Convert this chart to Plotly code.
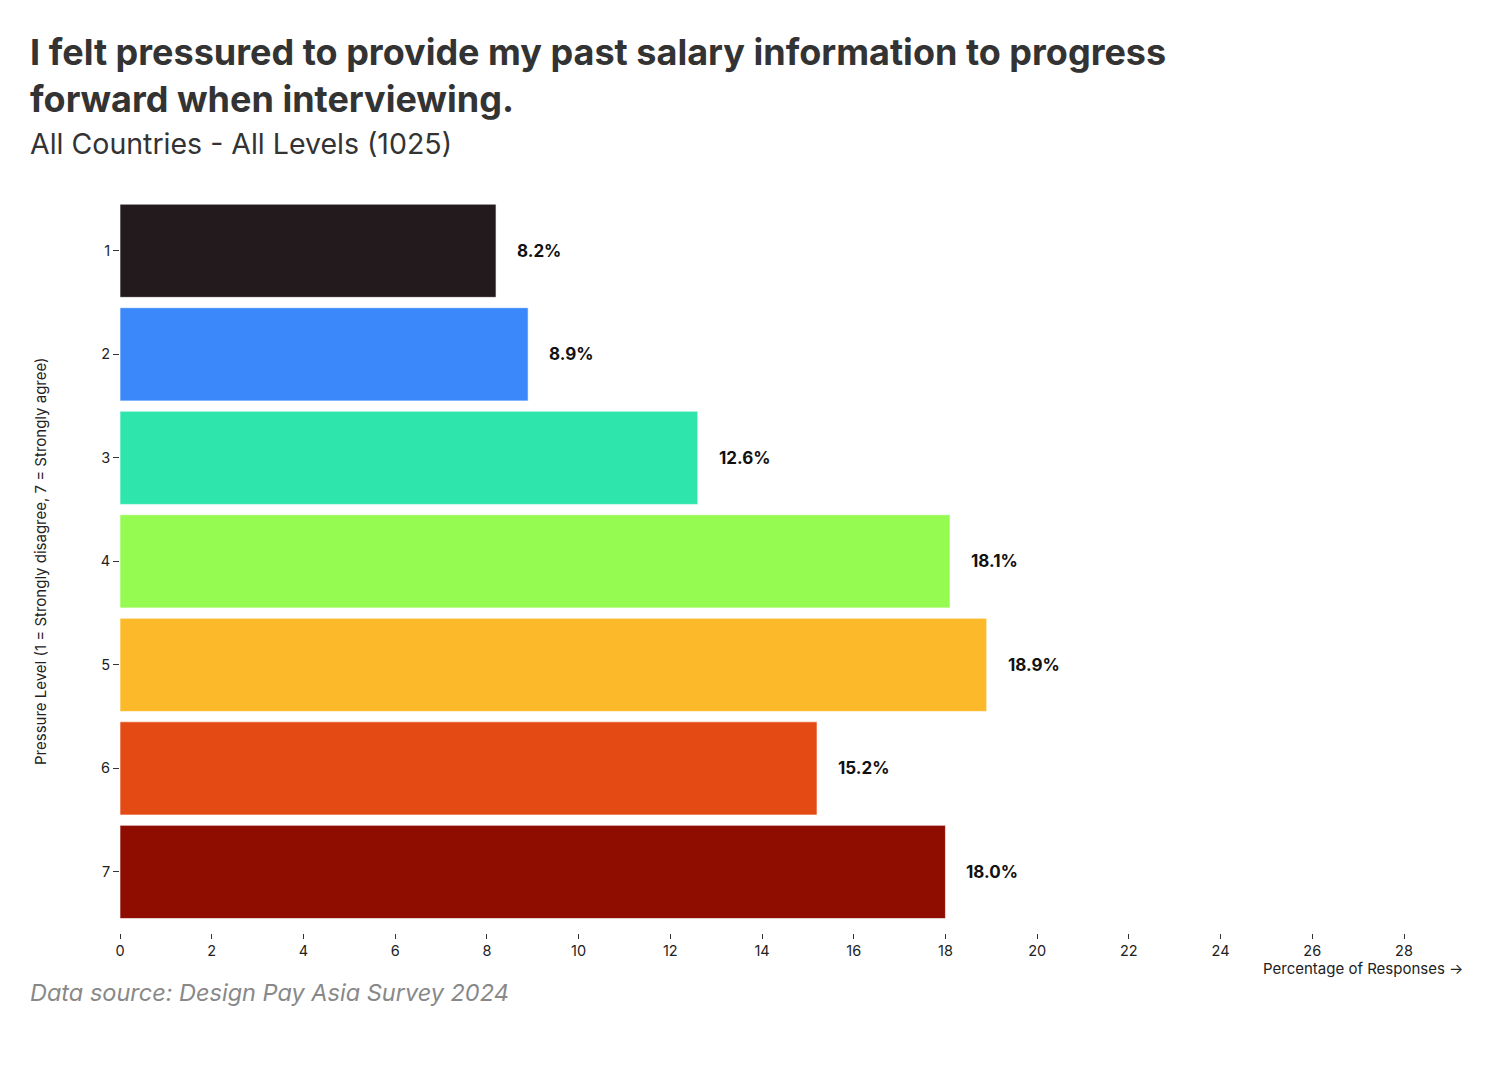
import plotly.graph_objects as go

levels = ["1", "2", "3", "4", "5", "6", "7"]
percentages = [8.2, 8.9, 12.6, 18.1, 18.9, 15.2, 18.0]
colors = ["#231a1d", "#3b88fb", "#2ee5ac", "#96fb51", "#fcb929", "#e44a14", "#8f0c00"]
x_ticks = list(range(0, 30, 2))

title_text = "I felt pressured to provide my past salary information to progress<br>forward when interviewing."
subtitle_text = "All Countries - All Levels (1025)"
source_text = "Data source: Design Pay Asia Survey 2024"

FONT = "Inter, Roboto, sans-serif"

fig = go.Figure()
fig.add_trace(go.Bar(
    y=list(range(len(levels))),
    x=percentages,
    orientation="h",
    marker=dict(color=colors, line=dict(color="rgba(255,255,255,0.6)", width=1)),
    width=0.9,
    hoverinfo="skip",
))

for i, v in enumerate(percentages):
    fig.add_annotation(x=v, y=i, xref="x", yref="y", text=f"<b>{v:.1f}%</b>",
                       showarrow=False, xanchor="left", xshift=19,
                       font=dict(family=FONT, size=17, color="#111"))

fig.update_layout(
    width=1500, height=1066,
    margin=dict(l=112, r=43, t=191, b=141),
    paper_bgcolor="white", plot_bgcolor="white",
    showlegend=False,
    font=dict(family=FONT, color="#222"),
    bargap=0.1,
)
fig.update_xaxes(
    range=[0, 29.33], tickvals=x_ticks, ticktext=[str(t) for t in x_ticks],
    showgrid=False, zeroline=False, showline=False, automargin=False,
    ticks="outside", ticklen=5, tickcolor="#333", tickwidth=1,
    tickfont=dict(family=FONT, size=14.5, color="#222"),
)
fig.update_yaxes(
    range=[6.59, -0.5], tickvals=list(range(len(levels))), ticktext=levels,
    showgrid=False, zeroline=False, showline=False, automargin=False,
    ticks="outside", ticklen=6, tickcolor="#333", tickwidth=1,
    tickfont=dict(family=FONT, size=14.5, color="#222"),
)

fig.add_annotation(xref="paper", yref="paper", x=0, xshift=-80, y=0.5, yshift=5, xanchor="center", yanchor="middle",
                   text="Pressure Level (1 = Strongly disagree, 7 = Strongly agree)", textangle=-90,
                   showarrow=False, font=dict(family=FONT, size=15, color="#222"))

fig.add_annotation(xref="paper", yref="paper", x=1, y=0, yshift=-35, xanchor="right", yanchor="middle",
                   text="Percentage of Responses →", showarrow=False,
                   font=dict(family=FONT, size=15, color="#222"))

fig.add_annotation(xref="paper", yref="paper", x=0, xshift=-92, y=1, yshift=124, xanchor="left", yanchor="middle",
                   text=f"<b>{title_text}</b>", showarrow=False, align="left",
                   font=dict(family=FONT, size=36, color="#333"))
fig.add_annotation(xref="paper", yref="paper", x=0, xshift=-92, y=1, yshift=56, xanchor="left", yanchor="middle",
                   text=subtitle_text, showarrow=False, align="left",
                   font=dict(family=FONT, size=28.5, color="#333"))
fig.add_annotation(xref="paper", yref="paper", x=0, xshift=-92, y=0, yshift=-59, xanchor="left", yanchor="middle",
                   text=f"<i>{source_text}</i>", showarrow=False, align="left",
                   font=dict(family=FONT, size=23.5, color="#888"))

fig.write_html("out.html")
